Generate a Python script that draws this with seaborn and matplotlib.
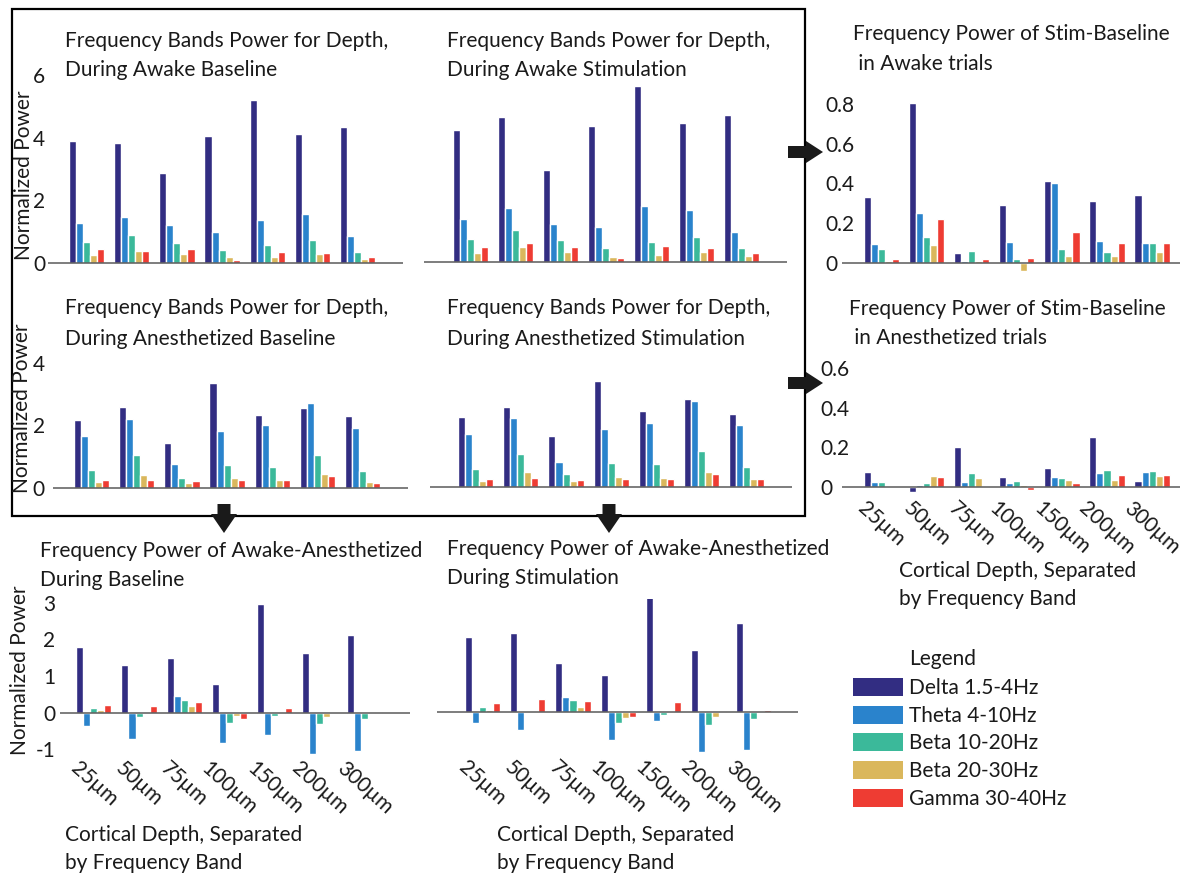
import numpy as np
import pandas as pd
import matplotlib
matplotlib.use("Agg")
import matplotlib.pyplot as plt
import seaborn as sns
from matplotlib.patches import Polygon, Rectangle, Patch

# ---------------- data ----------------
depths = ["25µm", "50µm", "75µm", "100µm", "150µm", "200µm", "300µm"]
bands = ["Delta 1.5-4Hz", "Theta 4-10Hz", "Beta 10-20Hz", "Beta 20-30Hz", "Gamma 30-40Hz"]
colors = ["#322d82", "#2a83cc", "#3bb99a", "#dab75c", "#ee3c33"]

# rows = bands (Delta, Theta, Beta10-20, Beta20-30, Gamma), columns = depths
awake_baseline = [
    [3.89, 3.82, 2.86, 4.06, 5.20, 4.13, 4.35],
    [1.29, 1.47, 1.20, 0.99, 1.36, 1.55, 0.85],
    [0.66, 0.90, 0.64, 0.43, 0.57, 0.72, 0.35],
    [0.25, 0.37, 0.30, 0.19, 0.19, 0.30, 0.14],
    [0.46, 0.39, 0.46, 0.09, 0.35, 0.33, 0.18],
]
awake_stim = [
    [4.22, 4.64, 2.94, 4.36, 5.63, 4.46, 4.71],
    [1.40, 1.73, 1.24, 1.12, 1.80, 1.67, 0.97],
    [0.75, 1.04, 0.71, 0.47, 0.65, 0.80, 0.47],
    [0.29, 0.48, 0.33, 0.17, 0.24, 0.35, 0.21],
    [0.50, 0.63, 0.50, 0.13, 0.53, 0.45, 0.31],
]
awake_stim_minus_base = [
    [0.33, 0.805, 0.05, 0.29, 0.41, 0.31, 0.34],
    [0.096, 0.25, 0.01, 0.106, 0.40, 0.11, 0.10],
    [0.07, 0.13, 0.06, 0.02, 0.067, 0.053, 0.10],
    [0.01, 0.09, 0.01, -0.04, 0.036, 0.036, 0.056],
    [0.02, 0.22, 0.02, 0.022, 0.154, 0.10, 0.10],
]
anest_baseline = [
    [2.16, 2.58, 1.43, 3.34, 2.34, 2.56, 2.30],
    [1.66, 2.20, 0.78, 1.83, 2.00, 2.70, 1.91],
    [0.57, 1.04, 0.33, 0.74, 0.68, 1.06, 0.55],
    [0.19, 0.42, 0.15, 0.33, 0.26, 0.45, 0.18],
    [0.27, 0.24, 0.21, 0.26, 0.25, 0.37, 0.17],
]
anest_stim = [
    [2.24, 2.56, 1.65, 3.39, 2.45, 2.82, 2.34],
    [1.70, 2.22, 0.82, 1.86, 2.05, 2.77, 1.99],
    [0.60, 1.06, 0.41, 0.77, 0.74, 1.16, 0.64],
    [0.20, 0.48, 0.20, 0.34, 0.30, 0.49, 0.25],
    [0.28, 0.30, 0.22, 0.27, 0.28, 0.44, 0.25],
]
anest_stim_minus_base = [
    [0.074, -0.027, 0.20, 0.05, 0.097, 0.25, 0.03],
    [0.024, 0.008, 0.024, 0.02, 0.05, 0.072, 0.074],
    [0.025, 0.022, 0.07, 0.03, 0.045, 0.084, 0.08],
    [0.007, 0.057, 0.047, 0.008, 0.034, 0.037, 0.055],
    [0.002, 0.049, 0.005, -0.013, 0.022, 0.062, 0.06],
]
awake_minus_anest_baseline = [
    [1.79, 1.31, 1.49, 0.78, 2.95, 1.64, 2.12],
    [-0.35, -0.73, 0.45, -0.83, -0.60, -1.12, -1.05],
    [0.12, -0.12, 0.34, -0.29, -0.10, -0.31, -0.17],
    [0.08, 0.0, 0.17, -0.10, -0.04, -0.13, 0.0],
    [0.22, 0.18, 0.28, -0.16, 0.14, 0.0, 0.03],
]
awake_minus_anest_stim = [
    [2.04, 2.15, 1.34, 1.02, 3.27, 1.69, 2.43],
    [-0.30, -0.49, 0.43, -0.75, -0.25, -1.09, -1.03],
    [0.155, 0.0, 0.33, -0.30, -0.08, -0.35, -0.17],
    [0.07, 0.0, 0.14, -0.15, -0.03, -0.14, 0.0],
    [0.24, 0.35, 0.30, -0.12, 0.27, 0.03, 0.06],
]


def to_df(vals):
    rows = []
    for bi, band in enumerate(bands):
        for di, d in enumerate(depths):
            rows.append({"depth": d, "band": band, "value": vals[bi][di]})
    return pd.DataFrame(rows)


# ---------------- style ----------------
sns.set_theme(style="white")
plt.rcParams["font.family"] = ["Lato", "DejaVu Sans"]
FS = 15
TXT = "#1a1a1a"

W, H = 1185, 877
fig = plt.figure(figsize=(W / 100, H / 100), dpi=100)


def px(x, y):
    return x / W, 1 - y / H


panels = [
    dict(vals=awake_baseline, l=48, r=403, z=263, s=31.3, ylim=(-0.2, 6.2), yt=[0, 2, 4, 6],
         ytl=["0", "2", "4", "6"], ypad=2, yha="right", xlim=(-0.85, 7.0), xl=False),
    dict(vals=awake_stim, l=424, r=787, z=262.5, s=31.3, ylim=(-0.2, 6.2), yt=[], ytl=[],
         ypad=2, yha="right", xlim=(-1.02, 7.0), xl=False),
    dict(vals=awake_stim_minus_base, l=842, r=1180, z=262.7, s=198.5, ylim=(-0.06, 0.85),
         yt=[0, 0.2, 0.4, 0.6, 0.8], ytl=["0", "0.2", "0.4", "0.6", "0.8"], ypad=12, yha="left",
         xlim=(-0.88, 6.62), xl=False),
    dict(vals=anest_baseline, l=53, r=408, z=488, s=31.3, ylim=(-0.2, 4.2), yt=[0, 2, 4],
         ytl=["0", "2", "4"], ypad=6, yha="right", xlim=(-0.85, 7.0), xl=False),
    dict(vals=anest_stim, l=430, r=792, z=487.3, s=31.3, ylim=(-0.2, 4.2), yt=[], ytl=[],
         ypad=2, yha="right", xlim=(-1.01, 7.0), xl=False),
    dict(vals=anest_stim_minus_base, l=842, r=1180, z=487, s=198.3, ylim=(-0.04, 0.65),
         yt=[0, 0.2, 0.4, 0.6], ytl=["0", "0.2", "0.4", "0.6"], ypad=15.5, yha="left",
         xlim=(-0.88, 6.62), xl=True),
    dict(vals=awake_minus_anest_baseline, l=60, r=410, z=712.7, s=36.7, ylim=(-1.15, 3.1),
         yt=[-1, 0, 1, 2, 3], ytl=["-1", "0", "1", "2", "3"], ypad=3.5, yha="right",
         xlim=(-0.75, 7.0), xl=True),
    dict(vals=awake_minus_anest_stim, l=437, r=798, z=712.3, s=36.7, ylim=(-1.15, 3.1), yt=[],
         ytl=[], ypad=2, yha="right", xlim=(-1.01, 6.98), xl=True),
]

for p in panels:
    lo, hi = p["ylim"]
    top = p["z"] - hi * p["s"]
    bot = p["z"] - lo * p["s"]
    ax = fig.add_axes([p["l"] / W, 1 - bot / H, (p["r"] - p["l"]) / W, (bot - top) / H])
    ax.patch.set_alpha(0)
    sns.barplot(data=to_df(p["vals"]), x="depth", y="value", hue="band", order=depths,
                hue_order=bands, palette=colors, width=0.78, errorbar=None, legend=False,
                saturation=1, ax=ax)
    ax.set_xlim(*p["xlim"])
    ax.set_ylim(lo, hi)
    for sp in ax.spines.values():
        sp.set_visible(False)
    ax.axhline(0, color="#5a5a5a", lw=1.1, zorder=5)
    ax.set_xlabel("")
    ax.set_ylabel("")
    ax.tick_params(length=0)
    ax.set_yticks(p["yt"])
    if p["yt"]:
        ax.set_yticklabels(p["ytl"], fontsize=FS, color=TXT)
        for t in ax.get_yticklabels():
            t.set_ha(p["yha"])
        ax.tick_params(axis="y", pad=p["ypad"])
    if p["xl"]:
        ax.set_xticks(range(len(depths)))
        ax.set_xticklabels(depths, fontsize=FS, color=TXT, rotation=-42, ha="center")
        ax.tick_params(axis="x", pad=2)
    else:
        ax.set_xticks([])

# ---------------- titles & labels ----------------
texts = [
    (65, 47, "Frequency Bands Power for Depth,"), (65, 76, "During Awake Baseline"),
    (447, 47, "Frequency Bands Power for Depth,"), (447, 76, "During Awake Stimulation"),
    (853, 40, "Frequency Power of Stim-Baseline"), (853, 70, " in Awake trials"),
    (65, 314, "Frequency Bands Power for Depth,"), (65, 345, "During Anesthetized Baseline"),
    (447, 314, "Frequency Bands Power for Depth,"), (447, 345, "During Anesthetized Stimulation"),
    (849, 315, "Frequency Power of Stim-Baseline"), (849, 344, " in Anesthetized trials"),
    (40, 557, "Frequency Power of Awake-Anesthetized"), (40, 586, "During Baseline"),
    (447, 555, "Frequency Power of Awake-Anesthetized"), (447, 584, "During Stimulation"),
    (899, 577, "Cortical Depth, Separated"), (899, 605, "by Frequency Band"),
    (65, 841, "Cortical Depth, Separated"), (65, 869, "by Frequency Band"),
    (497, 841, "Cortical Depth, Separated"), (497, 869, "by Frequency Band"),
    (909, 665, "Legend"),
]
for x, y, s in texts:
    fx, fy = px(x, y)
    fig.text(fx, fy, s, fontsize=FS, color=TXT, ha="left", va="baseline")

for x, y in [(24, 175), (22, 408), (20, 670)]:
    fx, fy = px(x, y)
    fig.text(fx, fy, "Normalized Power", fontsize=FS, color=TXT, rotation=90,
             ha="center", va="center")

# ---------------- legend ----------------
handles = [Patch(facecolor=c, edgecolor="none") for c in colors]
lx, ly = px(853, 678)
fig.legend(handles, bands, loc="upper left", bbox_to_anchor=(lx, ly), frameon=False,
           fontsize=FS, handlelength=2.4, handleheight=0.95, handletextpad=0.3,
           labelspacing=0.36, borderpad=0, borderaxespad=0, labelcolor=TXT)

# ---------------- frame box & arrows ----------------
bx0, by0 = px(12, 516)
bx1, by1 = px(805, 9)
fig.add_artist(Rectangle((bx0, by0), bx1 - bx0, by1 - by0, transform=fig.transFigure,
                         fill=False, edgecolor="black", lw=1.6))


def right_arrow(c):
    pts = [(788, c - 6), (806, c - 6), (806, c - 11), (823, c), (806, c + 11), (806, c + 6), (788, c + 6)]
    return [px(a, b) for a, b in pts]


def down_arrow(c):
    pts = [(c - 6.5, 504), (c + 6.5, 504), (c + 6.5, 514), (c + 13, 514), (c, 533), (c - 13, 514), (c - 6.5, 514)]
    return [px(a, b) for a, b in pts]


for poly in [right_arrow(152), right_arrow(383), down_arrow(224), down_arrow(609)]:
    fig.add_artist(Polygon(poly, closed=True, transform=fig.transFigure,
                           facecolor="#1a1a1a", edgecolor="none"))

fig.savefig("out.png", dpi=100)
